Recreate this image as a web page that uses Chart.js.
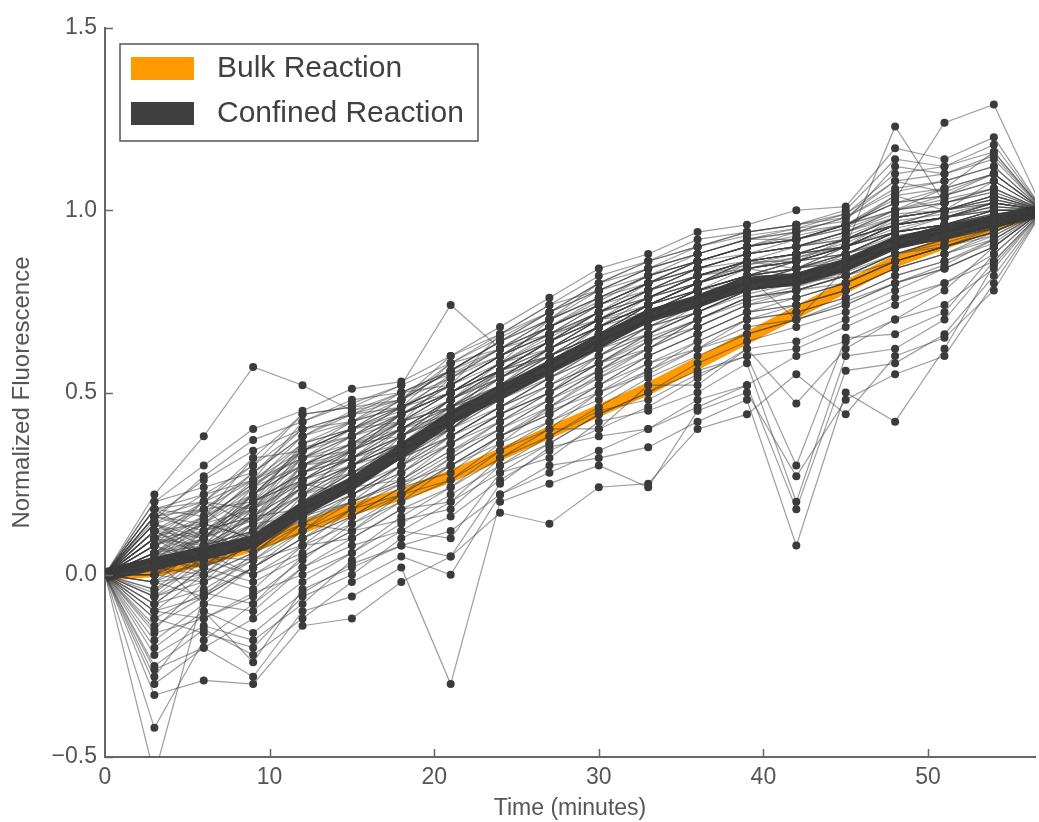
<!doctype html>
<html>
  <head>
    <script src="https://cdn.jsdelivr.net/npm/chart.js@4"></script>
    <style>
      html, body { margin: 0; padding: 0; background: #fff; }
      #wrap { width: 1039px; height: 822px; }
    </style>
  </head>
  <body>
    <div id="wrap"><canvas id="canvas"></canvas></div>
    <script>
      // sampling times (minutes)
      const times = [0, 3, 6, 9, 12, 15, 18, 21, 24, 27, 30, 33, 36, 39, 42, 45, 48, 51, 54, 57];

      const bulk = [0, 0.01, 0.04, 0.08, 0.13, 0.18, 0.22, 0.27, 0.33, 0.39, 0.45, 0.51, 0.58, 0.65, 0.72, 0.79, 0.86, 0.91, 0.96, 1.0];
      const confined = [0, 0.03, 0.06, 0.09, 0.18, 0.25, 0.34, 0.43, 0.50, 0.57, 0.64, 0.71, 0.75, 0.80, 0.81, 0.85, 0.91, 0.94, 0.97, 1.0];

      // individual droplets
      const traces = [
        [0,-0.55,-0.05,0.02,0.10,0.18,0.25,0.33,0.42,0.50,0.58,0.66,0.72,0.77,0.80,0.84,0.90,0.93,0.96,1],
        [0,-0.42,-0.18,-0.08,0.05,0.12,0.22,0.30,0.38,0.46,0.55,0.62,0.70,0.76,0.79,0.83,0.88,0.92,0.95,1],
        [0,0.22,0.38,0.57,0.52,0.45,0.48,0.58,0.65,0.72,0.80,0.86,0.90,0.93,0.95,0.99,1.08,1.05,1.10,1],
        [0,0.20,0.30,0.40,0.45,0.51,0.53,0.60,0.68,0.76,0.84,0.88,0.94,0.96,1.00,1.01,1.17,1.14,1.20,1],
        [0,0.15,0.27,0.37,0.42,0.47,0.52,0.74,0.62,0.70,0.80,0.84,0.88,0.92,0.92,0.96,1.02,1.06,1.16,1],
        [0,-0.33,-0.29,-0.30,-0.14,-0.12,-0.02,0.05,0.17,0.14,0.24,0.25,0.40,0.44,0.55,0.44,0.60,0.65,0.78,1],
        [0,-0.30,-0.20,-0.28,-0.10,-0.06,0.02,-0.30,0.20,0.25,0.30,0.24,0.45,0.50,0.27,0.48,0.55,0.60,0.80,1],
        [0,-0.25,-0.15,-0.22,-0.12,-0.02,0.05,0.00,0.22,0.30,0.32,0.35,0.42,0.48,0.08,0.50,0.42,0.62,0.85,1],
        [0,-0.20,-0.10,-0.16,-0.05,0.03,0.08,0.05,0.25,0.35,0.38,0.40,0.48,0.52,0.18,0.56,0.58,0.66,0.82,1],
        [0,-0.12,-0.05,-0.08,0.02,0.08,0.12,0.10,0.28,0.32,0.42,0.45,0.50,0.58,0.20,0.60,0.62,0.70,0.86,1],
        [0,-0.08,0.02,-0.02,0.05,0.12,0.15,0.18,0.30,0.38,0.45,0.48,0.55,0.60,0.30,0.65,0.66,0.72,0.88,1],
        [0,-0.05,0.05,0.04,0.08,0.10,0.18,0.20,0.32,0.40,0.40,0.52,0.52,0.62,0.47,0.62,0.70,0.78,0.90,1],
        [0,0.00,0.03,0.10,0.15,0.20,0.25,0.30,0.38,0.45,0.50,0.55,0.62,0.68,0.70,0.75,0.80,0.85,0.92,1],
        [0,0.05,0.10,0.15,0.22,0.30,0.38,0.45,0.52,0.58,0.66,0.72,0.78,0.82,0.84,0.88,0.94,0.96,1.00,1],
        [0,0.08,0.12,0.20,0.28,0.35,0.42,0.50,0.58,0.65,0.72,0.78,0.84,0.88,0.90,0.94,1.00,1.02,1.05,1],
        [0,0.10,0.15,0.25,0.32,0.40,0.45,0.55,0.60,0.68,0.75,0.82,0.86,0.90,0.94,0.98,1.06,1.08,1.12,1],
        [0,0.02,0.08,0.12,0.20,0.28,0.36,0.42,0.48,0.55,0.62,0.70,0.75,0.80,0.82,0.86,0.92,0.95,0.98,1],
        [0,0.12,0.05,0.18,0.25,0.22,0.30,0.38,0.46,0.52,0.58,0.65,0.70,0.76,0.78,0.82,0.86,0.90,0.94,1],
        [0,0.18,0.20,0.14,0.30,0.32,0.40,0.48,0.55,0.60,0.68,0.74,0.80,0.84,0.86,0.90,0.95,0.98,1.02,1],
        [0,-0.02,0.00,0.06,0.12,0.18,0.28,0.36,0.44,0.52,0.60,0.68,0.72,0.78,0.80,0.84,0.90,0.93,0.96,1],
        [0,0.04,-0.08,0.02,0.10,0.16,0.22,0.32,0.40,0.48,0.56,0.64,0.70,0.75,0.78,0.80,0.86,0.90,0.94,1],
        [0,0.10,0.18,0.08,0.15,0.25,0.32,0.40,0.50,0.56,0.62,0.70,0.74,0.80,0.82,0.85,0.92,0.96,0.98,1],
        [0,-0.15,-0.02,0.05,0.18,0.24,0.30,0.45,0.48,0.55,0.65,0.72,0.76,0.82,0.84,0.88,0.93,0.95,0.97,1],
        [0,0.06,0.14,0.22,0.35,0.38,0.46,0.52,0.60,0.66,0.70,0.76,0.82,0.86,0.88,0.92,0.98,1.00,1.04,1],
        [0,0.14,0.22,0.30,0.40,0.44,0.50,0.56,0.64,0.72,0.78,0.84,0.88,0.92,0.95,0.97,1.12,1.10,1.15,1],
        [0,0.00,0.06,0.00,0.08,0.14,0.20,0.26,0.36,0.42,0.48,0.56,0.62,0.70,0.74,0.78,0.84,0.88,0.92,1],
        [0,-0.10,-0.12,-0.05,0.00,0.06,0.14,0.22,0.30,0.36,0.44,0.50,0.58,0.64,0.68,0.72,0.78,0.84,0.90,1],
        [0,0.08,0.04,0.12,0.24,0.28,0.34,0.40,0.46,0.54,0.62,0.66,0.72,0.78,0.80,0.86,0.90,0.94,0.98,1],
        [0,0.03,0.10,0.18,0.26,0.34,0.44,0.50,0.56,0.62,0.70,0.76,0.80,0.85,0.87,0.90,0.96,0.98,1.00,1],
        [0,-0.04,0.02,0.08,0.14,0.20,0.26,0.34,0.42,0.48,0.54,0.60,0.66,0.72,0.76,0.80,0.86,0.90,0.94,1],
        [0,0.12,0.18,0.26,0.36,0.42,0.48,0.54,0.62,0.70,0.76,0.80,0.86,0.90,0.92,0.95,1.04,1.00,1.08,1],
        [0,0.06,0.00,0.10,0.20,0.26,0.38,0.44,0.54,0.60,0.66,0.74,0.78,0.84,0.86,0.88,0.94,0.96,0.99,1],
        [0,-0.08,-0.04,0.04,0.12,0.22,0.28,0.38,0.46,0.52,0.58,0.62,0.68,0.74,0.78,0.82,0.88,0.92,0.95,1],
        [0,0.16,0.12,0.22,0.30,0.36,0.44,0.50,0.58,0.64,0.72,0.78,0.82,0.86,0.90,0.93,0.98,1.00,1.03,1],
        [0,0.02,0.06,0.14,0.22,0.26,0.32,0.40,0.50,0.58,0.68,0.74,0.78,0.82,0.84,0.87,0.92,0.95,0.98,1],
        [0,-0.18,-0.08,-0.10,0.02,0.10,0.18,0.24,0.34,0.40,0.50,0.56,0.64,0.70,0.72,0.76,0.82,0.86,0.92,1],
        [0,0.10,0.08,0.16,0.18,0.30,0.36,0.46,0.52,0.62,0.68,0.72,0.78,0.80,0.84,0.86,0.90,0.94,0.96,1],
        [0,0.04,0.12,0.06,0.16,0.24,0.34,0.42,0.50,0.56,0.64,0.70,0.76,0.80,0.82,0.86,0.92,0.94,0.97,1],
        [0,0.20,0.24,0.28,0.38,0.45,0.50,0.52,0.66,0.74,0.82,0.86,0.92,0.94,0.96,0.99,1.10,1.12,1.18,1],
        [0,0.18,0.16,0.32,0.34,0.40,0.46,0.58,0.62,0.68,0.74,0.80,0.84,0.88,0.92,0.96,1.03,1.24,1.29,1],
        [0,0.14,0.10,0.20,0.26,0.32,0.40,0.48,0.56,0.60,0.66,0.74,0.78,0.82,0.86,0.90,1.23,1.02,1.06,1],
        [0,-0.06,0.04,0.00,0.06,0.16,0.24,0.28,0.38,0.44,0.52,0.58,0.62,0.66,0.70,0.74,0.80,0.84,0.90,1],
        [0,0.08,0.16,0.24,0.30,0.34,0.40,0.46,0.54,0.62,0.70,0.76,0.82,0.85,0.88,0.90,0.96,0.98,1.00,1],
        [0,-0.12,-0.16,-0.20,-0.06,0.00,0.10,0.16,0.26,0.34,0.40,0.46,0.54,0.62,0.64,0.70,0.76,0.80,0.88,1],
        [0,0.00,0.10,0.16,0.24,0.30,0.36,0.42,0.48,0.54,0.60,0.68,0.72,0.78,0.80,0.82,0.88,0.92,0.96,1],
        [0,0.06,0.08,0.14,0.16,0.20,0.30,0.36,0.44,0.50,0.56,0.64,0.68,0.74,0.76,0.80,0.86,0.90,0.93,1],
        [0,0.12,0.20,0.18,0.28,0.36,0.42,0.46,0.52,0.60,0.66,0.74,0.80,0.84,0.86,0.90,0.96,0.98,1.01,1],
        [0,-0.02,-0.06,0.06,0.14,0.12,0.20,0.30,0.36,0.46,0.52,0.60,0.66,0.72,0.74,0.78,0.84,0.88,0.93,1],
        [0,0.04,0.14,0.10,0.20,0.28,0.32,0.38,0.44,0.50,0.58,0.66,0.74,0.78,0.80,0.84,0.90,0.92,0.95,1],
        [0,0.16,0.26,0.34,0.40,0.42,0.46,0.52,0.60,0.66,0.74,0.80,0.86,0.90,0.93,0.96,1.00,1.04,1.10,1],
        [0,-0.22,-0.14,-0.18,-0.08,0.04,0.12,0.20,0.28,0.36,0.44,0.50,0.56,0.60,0.62,0.68,0.74,0.80,0.86,1],
        [0,0.10,0.02,0.12,0.22,0.30,0.40,0.44,0.50,0.56,0.64,0.70,0.74,0.78,0.82,0.86,0.92,0.94,0.97,1],
        [0,0.02,0.12,0.20,0.28,0.32,0.38,0.48,0.56,0.64,0.72,0.76,0.80,0.86,0.88,0.92,0.98,1.00,1.02,1],
        [0,-0.28,-0.10,-0.24,-0.04,0.02,0.08,0.12,0.22,0.28,0.34,0.40,0.46,0.52,0.60,0.64,0.70,0.74,0.84,1],
        [0,0.08,0.20,0.26,0.32,0.38,0.42,0.50,0.58,0.62,0.68,0.74,0.80,0.84,0.87,0.91,0.97,0.99,1.02,1],
        [0,0.06,0.04,0.08,0.18,0.24,0.26,0.34,0.40,0.48,0.56,0.62,0.70,0.76,0.78,0.82,0.88,0.91,0.95,1],
        [0,-0.10,0.00,-0.04,0.08,0.18,0.22,0.26,0.34,0.42,0.50,0.58,0.64,0.70,0.72,0.76,0.82,0.86,0.91,1],
        [0,0.14,0.06,0.20,0.28,0.34,0.44,0.52,0.60,0.68,0.74,0.78,0.84,0.88,0.90,0.94,1.00,1.03,1.06,1],
        [0,0.00,0.08,0.12,0.16,0.22,0.30,0.38,0.46,0.54,0.62,0.68,0.74,0.80,0.82,0.86,0.92,0.95,0.98,1],
        [0,0.18,0.10,0.24,0.34,0.40,0.48,0.56,0.64,0.70,0.76,0.82,0.86,0.90,0.92,0.95,1.00,1.02,1.05,1],
        [0,0.05,0.15,0.25,0.38,0.42,0.50,0.55,0.62,0.68,0.74,0.80,0.86,0.90,0.92,0.96,1.02,1.04,1.08,1],
        [0,0.10,0.20,0.32,0.44,0.46,0.48,0.60,0.66,0.74,0.78,0.84,0.90,0.94,0.96,0.98,1.05,1.08,1.12,1],
        [0,-0.14,-0.06,0.02,0.12,0.20,0.26,0.36,0.44,0.50,0.60,0.66,0.72,0.78,0.80,0.84,0.90,0.92,0.96,1],
        [0,0.02,0.00,0.12,0.22,0.34,0.40,0.48,0.54,0.62,0.70,0.74,0.80,0.86,0.84,0.90,0.94,0.96,1.00,1],
        [0,0.08,0.14,0.10,0.26,0.30,0.36,0.44,0.52,0.60,0.66,0.72,0.76,0.82,0.70,0.84,0.90,0.94,0.98,1],
        [0,-0.04,0.06,0.16,0.30,0.38,0.44,0.50,0.58,0.64,0.70,0.78,0.82,0.86,0.88,0.90,0.98,1.00,1.03,1],
        [0,0.16,0.18,0.20,0.36,0.40,0.42,0.54,0.60,0.66,0.72,0.80,0.84,0.88,0.90,0.92,0.96,0.98,1.02,1],
        [0,0.00,-0.02,0.04,0.14,0.22,0.30,0.40,0.50,0.58,0.66,0.74,0.80,0.84,0.86,0.88,0.94,0.96,0.98,1],
        [0,0.12,0.06,0.18,0.32,0.36,0.38,0.46,0.56,0.64,0.70,0.76,0.82,0.86,0.86,0.90,0.96,1.00,1.04,1],
        [0,-0.16,-0.12,-0.06,0.04,0.14,0.22,0.30,0.38,0.44,0.52,0.60,0.66,0.72,0.74,0.78,0.84,0.88,0.94,1],
        [0,0.06,0.16,0.28,0.40,0.44,0.46,0.52,0.58,0.70,0.76,0.82,0.88,0.92,0.94,0.96,1.00,1.06,1.10,1],
        [0,0.04,0.10,0.06,0.22,0.28,0.36,0.44,0.56,0.62,0.68,0.76,0.82,0.84,0.86,0.88,0.94,0.98,1.00,1],
        [0,0.14,0.08,0.22,0.34,0.38,0.44,0.50,0.56,0.64,0.72,0.78,0.84,0.88,0.90,0.94,0.99,1.00,1.04,1],
        [0,-0.06,-0.02,0.10,0.18,0.26,0.34,0.42,0.52,0.56,0.62,0.70,0.76,0.80,0.82,0.84,0.90,0.94,0.97,1],
        [0,0.02,0.08,0.20,0.32,0.34,0.40,0.48,0.54,0.60,0.68,0.74,0.80,0.84,0.86,0.92,0.96,0.98,1.02,1],
        [0,0.10,0.12,0.16,0.28,0.32,0.38,0.46,0.54,0.62,0.70,0.72,0.78,0.82,0.84,0.90,0.94,0.96,1.00,1],
        [0,0.18,0.22,0.26,0.42,0.48,0.50,0.56,0.64,0.70,0.78,0.84,0.88,0.92,0.94,0.98,1.08,1.10,1.14,1],
        [0,-0.02,0.04,0.08,0.20,0.28,0.34,0.40,0.48,0.56,0.64,0.70,0.74,0.78,0.80,0.86,0.90,0.94,0.98,1],
        [0,0.08,0.02,0.14,0.24,0.32,0.42,0.50,0.56,0.60,0.66,0.72,0.78,0.82,0.82,0.86,0.92,0.96,0.99,1],
        [0,0.00,0.12,0.18,0.30,0.36,0.40,0.46,0.50,0.58,0.64,0.70,0.76,0.80,0.84,0.88,0.92,0.94,0.98,1],
        [0,-0.26,-0.20,-0.12,-0.02,0.06,0.16,0.24,0.32,0.38,0.46,0.54,0.60,0.66,0.70,0.74,0.80,0.84,0.90,1],
        [0,0.12,0.14,0.24,0.36,0.40,0.48,0.56,0.62,0.66,0.72,0.76,0.82,0.86,0.88,0.92,0.98,1.02,1.06,1],
        [0,0.06,0.10,0.20,0.26,0.32,0.36,0.40,0.48,0.56,0.62,0.68,0.74,0.80,0.80,0.86,0.92,0.94,0.98,1],
        [0,0.16,0.20,0.30,0.44,0.46,0.52,0.58,0.66,0.72,0.80,0.86,0.90,0.94,0.96,1.00,1.14,1.12,1.16,1],
        [0,-0.06,0.00,0.06,0.16,0.22,0.28,0.36,0.42,0.50,0.58,0.64,0.70,0.76,0.78,0.82,0.88,0.90,0.94,1],
        [0,0.04,0.02,0.10,0.20,0.30,0.36,0.42,0.50,0.56,0.62,0.70,0.76,0.80,0.84,0.88,0.92,0.96,1.00,1],
        [0,0.10,0.16,0.22,0.32,0.38,0.46,0.52,0.60,0.66,0.74,0.80,0.84,0.88,0.90,0.94,0.98,1.00,1.04,1],
        [0,0.02,0.04,0.14,0.28,0.34,0.42,0.48,0.56,0.64,0.70,0.76,0.82,0.86,0.88,0.92,0.96,0.98,1.01,1],
        [0,-0.10,-0.06,0.02,0.10,0.16,0.24,0.32,0.40,0.46,0.54,0.62,0.68,0.74,0.76,0.80,0.86,0.90,0.95,1],
        [0,0.14,0.18,0.28,0.38,0.44,0.48,0.56,0.64,0.72,0.78,0.82,0.86,0.90,0.92,0.96,1.02,1.04,1.08,1],
        [0,0.06,0.12,0.16,0.24,0.30,0.38,0.48,0.58,0.66,0.72,0.78,0.84,0.86,0.88,0.90,0.94,0.96,0.98,1],
        [0,0.00,0.06,0.12,0.18,0.24,0.32,0.42,0.50,0.58,0.66,0.72,0.78,0.82,0.84,0.86,0.90,0.94,0.97,1],
        [0,0.08,0.14,0.18,0.34,0.40,0.44,0.52,0.60,0.68,0.74,0.80,0.86,0.88,0.90,0.92,0.98,1.00,1.03,1],
        [0,-0.02,0.08,0.16,0.26,0.32,0.38,0.44,0.52,0.58,0.64,0.72,0.78,0.82,0.86,0.90,0.96,0.98,1.01,1],
        [0,0.12,0.10,0.22,0.30,0.36,0.44,0.50,0.58,0.64,0.70,0.76,0.80,0.86,0.88,0.92,0.96,0.98,1.02,1],
        [0,0.04,0.08,0.12,0.26,0.34,0.42,0.46,0.54,0.62,0.68,0.74,0.80,0.84,0.82,0.88,0.94,0.96,0.99,1],
        [0,0.16,0.14,0.26,0.34,0.42,0.46,0.54,0.62,0.68,0.76,0.82,0.86,0.90,0.92,0.96,1.04,1.06,1.10,1],
        [0,-0.08,0.02,0.08,0.16,0.24,0.32,0.38,0.46,0.54,0.60,0.66,0.72,0.78,0.80,0.84,0.90,0.92,0.96,1],
        [0,0.10,0.06,0.14,0.24,0.30,0.34,0.44,0.52,0.60,0.68,0.74,0.78,0.82,0.86,0.90,0.94,0.96,1.00,1],
        [0,0.02,0.10,0.22,0.34,0.40,0.46,0.50,0.56,0.64,0.72,0.78,0.82,0.86,0.88,0.90,0.96,1.00,1.02,1]
      ];

      const xTicks = [0, 10, 20, 30, 40, 50];
      const yTicks = [-0.5, 0.0, 0.5, 1.0, 1.5];
      const legendLabels = ['Bulk Reaction', 'Confined Reaction'];

      const ORANGE = '#ff9a00';
      const DARK = '#404040';
      const FONT = "'Liberation Sans', Arial, sans-serif";

      const toPts = (arr) => arr.map((v, i) => ({ x: times[i], y: v }));

      const datasets = traces.map((t) => ({
        data: toPts(t),
        borderColor: 'rgba(60,60,60,0.5)',
        borderWidth: 1.2,
        pointRadius: 4,
        pointBackgroundColor: '#3b3b3b',
        pointBorderWidth: 0,
        tension: 0,
      }));
      datasets.push({
        label: legendLabels[1],
        data: toPts(confined),
        borderColor: DARK,
        borderWidth: 13,
        pointRadius: 0,
        borderJoinStyle: 'round',
      });
      datasets.push({
        label: legendLabels[0],
        data: toPts(bulk),
        borderColor: ORANGE,
        borderWidth: 12,
        pointRadius: 0,
        borderJoinStyle: 'round',
      });

      // inward tick marks + boxed legend
      const decor = {
        id: 'decor',
        afterDraw(chart) {
          const { ctx, chartArea: a, scales } = chart;
          ctx.save();
          ctx.strokeStyle = '#666';
          ctx.lineWidth = 1.5;
          ctx.beginPath();
          yTicks.forEach((v) => {
            const y = Math.round(scales.y.getPixelForValue(v)) + 0.5;
            ctx.moveTo(a.left, y);
            ctx.lineTo(a.left + 8, y);
          });
          xTicks.forEach((v) => {
            if (v === 0) return;
            const x = Math.round(scales.x.getPixelForValue(v)) + 0.5;
            ctx.moveTo(x, a.bottom);
            ctx.lineTo(x, a.bottom - 8);
          });
          ctx.stroke();

          // legend
          const lx = 120, ly = 44, lw = 358, lh = 97;
          ctx.fillStyle = '#fff';
          ctx.fillRect(lx, ly, lw, lh);
          ctx.strokeStyle = '#555';
          ctx.lineWidth = 1.5;
          ctx.strokeRect(lx, ly, lw, lh);
          const swatches = [ORANGE, DARK];
          ctx.font = '30px ' + FONT;
          ctx.textBaseline = 'middle';
          legendLabels.forEach((lab, i) => {
            const cy = 68 + i * 45;
            ctx.fillStyle = swatches[i];
            ctx.fillRect(131, cy - 11, 63, 23);
            ctx.fillStyle = '#404040';
            ctx.fillText(lab, 217, cy + 1);
          });
          ctx.restore();
        },
      };

      new Chart(document.getElementById('canvas').getContext('2d'), {
        type: 'line',
        data: { datasets },
        options: {
          responsive: true,
          maintainAspectRatio: false,
          animation: false,
          events: [],
          layout: { padding: { top: 28, right: 0, left: 0, bottom: 0 } },
          plugins: { legend: { display: false }, tooltip: { enabled: false } },
          scales: {
            x: {
              type: 'linear',
              min: 0,
              max: 56.5,
              afterFit: (s) => { s.height = 65; },
              afterBuildTicks: (s) => { s.ticks = xTicks.map((v) => ({ value: v })); },
              grid: { display: false, drawTicks: false },
              border: { display: true, color: '#666', width: 2 },
              ticks: {
                padding: 7,
                color: '#555',
                font: { family: FONT, size: 23 },
                callback: (v) => String(v),
              },
              title: {
                display: true,
                text: 'Time (minutes)',
                color: '#555',
                font: { family: FONT, size: 23 },
                padding: { top: 0, bottom: 0 },
              },
            },
            y: {
              min: -0.5,
              max: 1.5,
              afterFit: (s) => { s.width = 105; },
              afterBuildTicks: (s) => { s.ticks = yTicks.map((v) => ({ value: v })); },
              grid: { display: false, drawTicks: false },
              border: { display: true, color: '#666', width: 2 },
              ticks: {
                padding: 8,
                color: '#555',
                font: { family: FONT, size: 23 },
                callback: (v) => (v < 0 ? '\u2212' + Math.abs(v).toFixed(1) : v.toFixed(1)),
              },
              title: {
                display: true,
                text: 'Normalized Fluorescence',
                color: '#555',
                font: { family: FONT, size: 24 },
                padding: { top: 8, bottom: 0 },
              },
            },
          },
        },
        plugins: [decor],
      });
    </script>
  </body>
</html>
